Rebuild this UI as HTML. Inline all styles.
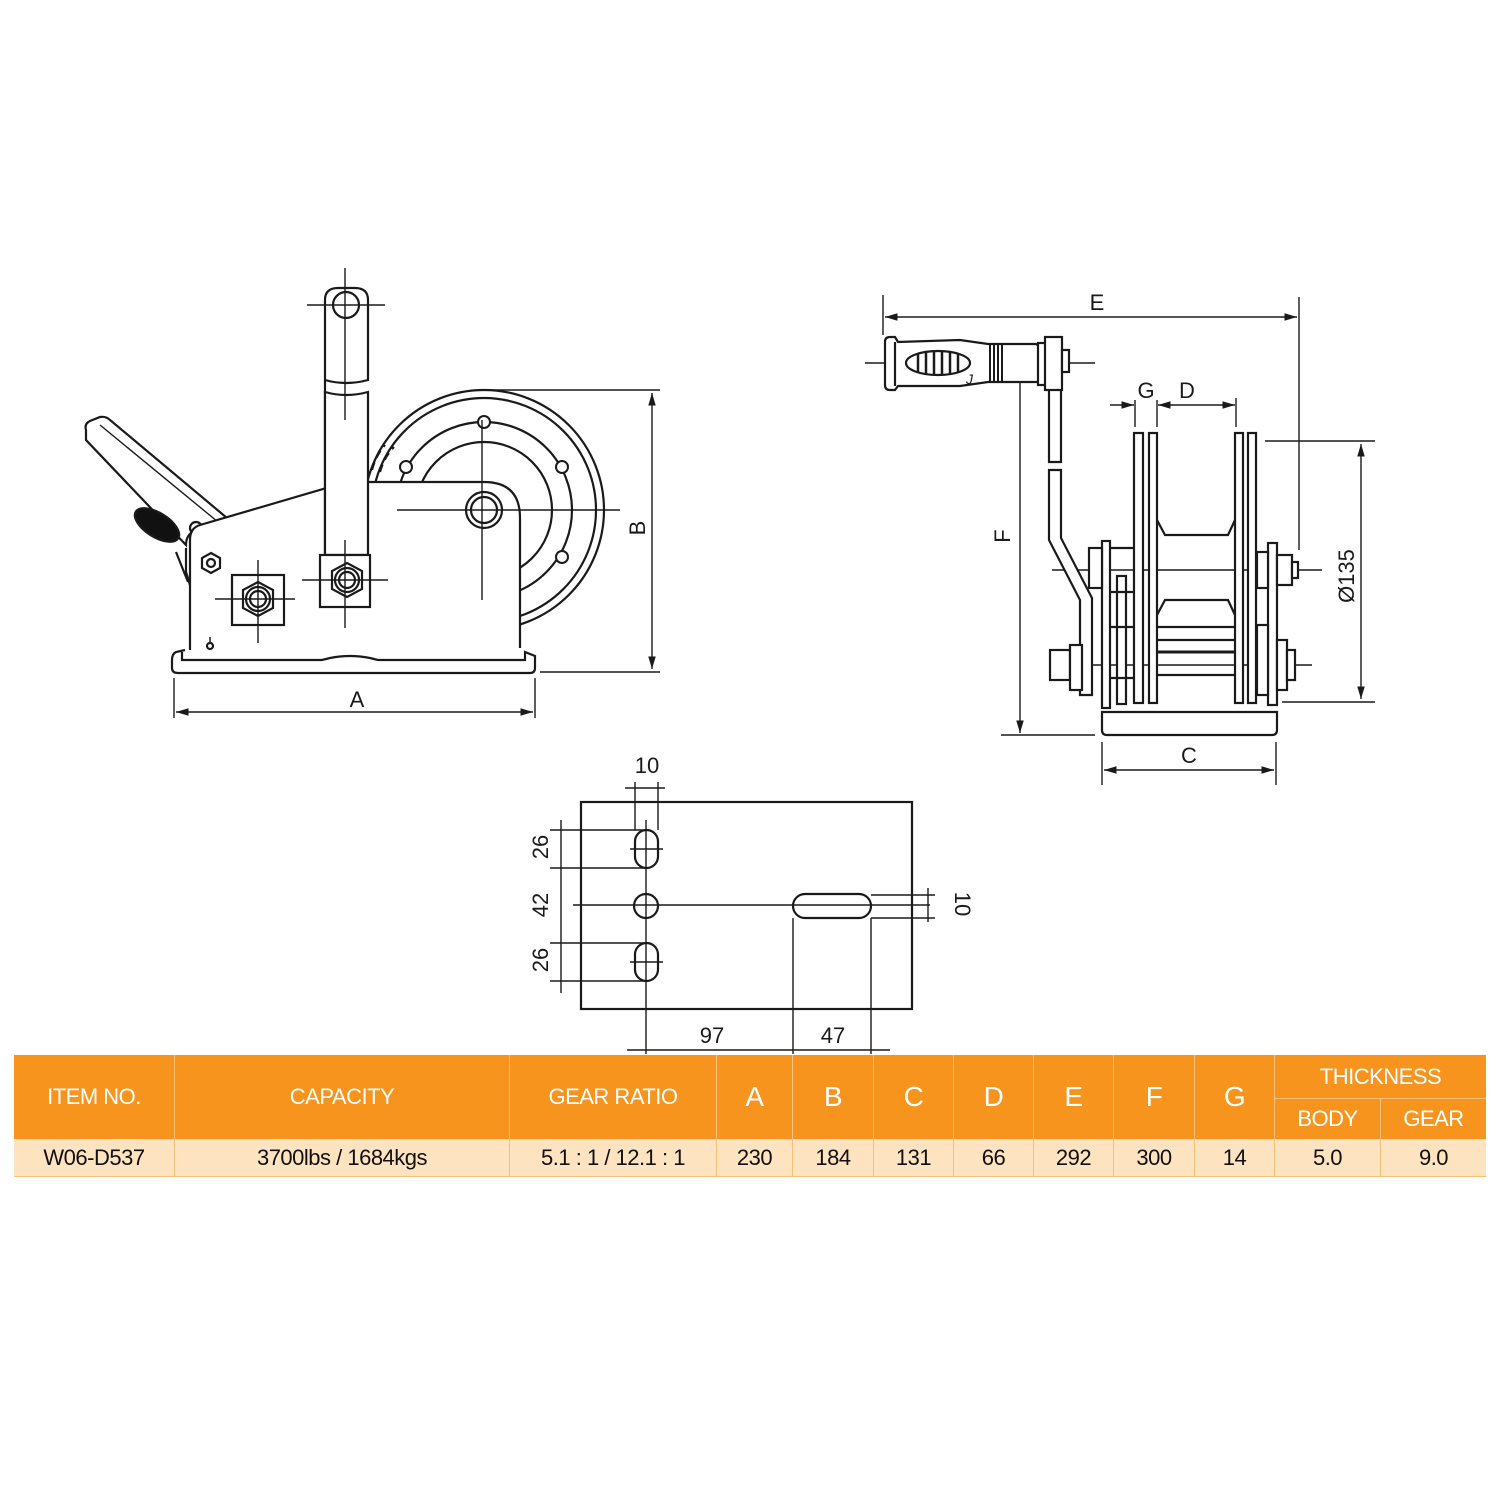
<!DOCTYPE html>
<html><head><meta charset="utf-8"><style>
html,body{margin:0;padding:0;background:#fff}
body{width:1500px;height:1500px;position:relative;overflow:hidden;font-family:"Liberation Sans",sans-serif}
svg{position:absolute;left:0;top:0}
.t{position:absolute;color:#fff;font-size:22px;text-align:center;display:flex;align-items:center;justify-content:center;box-sizing:border-box;border-right:1px solid #f9c27e;letter-spacing:-0.5px}
.d{position:absolute;color:#111;font-size:22px;text-align:center;display:flex;align-items:center;justify-content:center;box-sizing:border-box;border-right:1px solid #f6c07a;letter-spacing:-0.5px}
</style></head><body>
<svg width="1500" height="1500" viewBox="0 0 1500 1500" fill="none" stroke="#1a1a1a" stroke-width="2.2" font-family="Liberation Sans, sans-serif">
<defs>
<marker id="ar" viewBox="0 0 10 10" refX="10" refY="5" markerWidth="9" markerHeight="9" orient="auto-start-reverse"><path d="M0,2 L10,5 L0,8 z" fill="#1a1a1a" stroke="none"/></marker>
</defs>
<!-- ===== LEFT VIEW ===== -->
<circle cx="484" cy="510" r="120" fill="#fff"/>
<circle cx="484" cy="510" r="112"/>
<circle cx="484" cy="510" r="88"/>
<circle cx="484" cy="510" r="68"/>
<g stroke-width="2">
<circle cx="484" cy="422" r="6" fill="#fff"/><circle cx="562" cy="467" r="6" fill="#fff"/><circle cx="562" cy="557" r="6" fill="#fff"/><circle cx="406" cy="467" r="6" fill="#fff"/>
</g>
<path d="M372,470 Q376,455 385,445" stroke-dasharray="8 5"/>
<path d="M380,472 Q384,457 394,447" stroke-dasharray="8 5"/>
<!-- lever -->
<path d="M86,430 Q84,424 90,421 L100,417 Q106,416 110,420 L227,518 L212,526 L196,530 Q186,534 186,545 L86,440 Z" fill="#fff"/>
<path d="M100,425 L218,522" stroke-width="1.4"/>
<path d="M186,548 L186,572 L190,585"/>
<path d="M176,552 L188,582"/>
<ellipse cx="157" cy="525" rx="25" ry="12" transform="rotate(32 157 525)" fill="#111"/>
<circle cx="196" cy="528" r="6" fill="#fff"/>
<!-- body -->
<path d="M190,650 L190,540 Q190,528 200,525 L330,487 L367,482 L484,482 Q520,482 520,518 L520,648" fill="#fff"/>
<path d="M330,487 L367,481" stroke="#fff" stroke-width="3"/>
<path d="M330,487 L367,481" stroke-dasharray="7 5"/>
<!-- base -->
<path d="M185,650 L176,652 Q172,654 172,660 L172,668 Q172,673 178,673 L530,673 Q535,673 535,668 L535,656 L525,652 L525,660 L378,660 L370,658 Q350,654 330,658 L322,660 L182,660 L182,652" fill="#fff"/>
<circle cx="484" cy="510" r="18" fill="#fff"/>
<circle cx="484" cy="510" r="13"/>
<!-- handle -->
<path d="M325,555 L325,300 Q325,288 338,288 L355,288 Q368,288 368,300 L368,380 Q346,386 325,380" fill="#fff"/>
<path d="M325,392 Q346,398 368,392 L368,555 L325,555 Z" fill="#fff"/>
<circle cx="346" cy="305" r="13" fill="#fff"/>
<rect x="320" y="555" width="50" height="52" fill="#fff"/>
<polygon points="347,563 362,571 362,589 347,597 332,589 332,571"/>
<circle cx="347" cy="580" r="12"/><circle cx="347" cy="580" r="8"/>
<rect x="232" y="575" width="52" height="50" fill="#fff"/>
<polygon points="258,582 273,590 273,608 258,616 243,608 243,590"/>
<circle cx="258" cy="599" r="12"/><circle cx="258" cy="599" r="8"/>
<polygon points="211,553 220,558 220,568 211,573 202,568 202,558"/>
<circle cx="211" cy="563" r="4"/>
<circle cx="210" cy="646" r="3"/><path d="M210,643 L210,637" stroke-width="1.5"/>
<g stroke-width="1.4">
<path d="M345,268 L345,420"/><path d="M307,305 L385,305"/>
<path d="M397,510 L620,510"/><path d="M482,420 L482,600"/>
<path d="M302,580 L388,580"/><path d="M345,540 L345,628"/>
<path d="M215,599 L295,599"/><path d="M258,560 L258,643"/>
</g>
<g stroke-width="1.4">
<path d="M490,390 L660,390"/><path d="M540,672 L660,672"/>
<path d="M652,393 L652,669" marker-start="url(#ar)" marker-end="url(#ar)"/>
<path d="M174,678 L174,718"/><path d="M535,678 L535,718"/>
<path d="M176,712 L533,712" marker-start="url(#ar)" marker-end="url(#ar)"/>
</g>
<g fill="#1a1a1a" stroke="none" font-size="22">
<text x="357" y="707" text-anchor="middle">A</text>
<text x="645" y="528" text-anchor="middle" transform="rotate(-90 645 528)">B</text>
</g>
<!-- ===== RIGHT VIEW ===== -->
<g stroke-width="1.4">
<path d="M883,295 L883,335"/><path d="M1299,297 L1299,550"/>
<path d="M885,317 L1297,317" marker-start="url(#ar)" marker-end="url(#ar)"/>
<path d="M865,363 L1095,363"/>
<path d="M1020,367 L1020,733" marker-start="url(#ar)" marker-end="url(#ar)"/>
<path d="M1001,735 L1095,735"/>
<path d="M1135,400 L1135,427"/><path d="M1157,400 L1157,427"/><path d="M1236,398 L1236,427"/>
<path d="M1110,405 L1134,405" marker-end="url(#ar)"/>
<path d="M1158,405 L1235,405" marker-start="url(#ar)" marker-end="url(#ar)"/>
<path d="M1265,441 L1375,441"/><path d="M1282,702 L1375,702"/>
<path d="M1361,444 L1361,699" marker-start="url(#ar)" marker-end="url(#ar)"/>
<path d="M1102,742 L1102,785"/><path d="M1276,742 L1276,785"/>
<path d="M1104,770 L1274,770" marker-start="url(#ar)" marker-end="url(#ar)"/>
<path d="M1052,570 L1322,570"/><path d="M1050,665 L1312,665"/>
</g>
<g fill="#1a1a1a" stroke="none" font-size="22">
<text x="1097" y="310" text-anchor="middle">E</text>
<text x="1146" y="398" text-anchor="middle">G</text>
<text x="1187" y="398" text-anchor="middle">D</text>
<text x="1189" y="763" text-anchor="middle">C</text>
<text x="1010" y="536" text-anchor="middle" transform="rotate(-90 1010 536)">F</text>
<text x="1354" y="576" text-anchor="middle" transform="rotate(-90 1354 576)">Ø135</text>
</g>
<path d="M890,337 L895,337 L898,342 L960,340 L988,344 L1036,344 Q1040,346 1040,350 L1040,378 Q1040,382 1036,382 L988,382 L960,386 L898,386 L895,390 L890,390 Q885,390 885,385 L885,342 Q885,337 890,337 Z" fill="#fff"/>
<path d="M895,342 L895,386"/>
<ellipse cx="938" cy="363" rx="32" ry="12" fill="#fff"/>
<g stroke-width="2.5"><path d="M918,353 V373"/><path d="M926,351 V375"/><path d="M934,351 V375"/><path d="M942,351 V375"/><path d="M950,352 V374"/><path d="M958,354 V372"/></g>
<path d="M990,344 V382 M994,344 V382 M998,344 V382 M1002,344 V382" stroke-width="2"/>
<text x="966" y="384" font-size="14" fill="#1a1a1a" stroke="none" font-style="italic">J</text>
<rect x="1038" y="343" width="8" height="42" fill="#fff"/>
<rect x="1045" y="337" width="17" height="53" fill="#fff"/>
<rect x="1062" y="350" width="7" height="22" fill="#fff"/>
<path d="M1049,390 L1049,462 L1061,462 L1061,390"/>
<path d="M1049,470 L1049,540 L1080,600 L1080,695 L1092,695 L1092,598 L1061,538 L1061,470 Z" fill="#fff"/>
<rect x="1134" y="433" width="9" height="270" fill="#fff"/>
<rect x="1149" y="433" width="8" height="270" fill="#fff"/>
<rect x="1235" y="433" width="8" height="270" fill="#fff"/>
<rect x="1248" y="433" width="8" height="270" fill="#fff"/>
<path d="M1157,520 L1165,535 L1228,535 L1235,520"/>
<path d="M1157,615 L1165,600 L1228,600 L1235,615"/>
<path d="M1157,627 L1235,627"/><path d="M1157,640 L1235,640"/>
<path d="M1157,652 L1235,652" stroke-width="3"/>
<path d="M1157,675 L1235,675"/>
<rect x="1102" y="541" width="8" height="167" fill="#fff"/>
<rect x="1268" y="543" width="9" height="162" fill="#fff"/>
<rect x="1117" y="576" width="9" height="128" fill="#fff"/>
<path d="M1110,548 L1134,548 M1110,592 L1134,592 M1110,627 L1134,627 M1110,678 L1134,678"/>
<rect x="1089" y="548" width="13" height="40" fill="#fff"/>
<rect x="1257" y="552" width="11" height="36" fill="#fff"/>
<rect x="1277" y="555" width="15" height="30" fill="#fff"/>
<rect x="1292" y="562" width="6" height="16" fill="#fff"/>
<rect x="1050" y="650" width="20" height="30" fill="#fff"/>
<rect x="1070" y="645" width="12" height="45" fill="#fff"/>
<rect x="1257" y="625" width="11" height="70" fill="#fff"/>
<rect x="1277" y="640" width="10" height="50" fill="#fff"/>
<rect x="1287" y="650" width="8" height="30" fill="#fff"/>
<path d="M1102,712 L1277,712 L1277,730 Q1277,735 1272,735 L1107,735 Q1102,735 1102,730 Z" fill="#fff"/>
<!-- ===== PLATE ===== -->
<rect x="581" y="802" width="331" height="207" fill="#fff"/>
<rect x="635" y="830" width="23" height="38" rx="11.5" fill="#fff"/>
<rect x="635" y="943" width="23" height="38" rx="11.5" fill="#fff"/>
<circle cx="646" cy="906" r="12" fill="#fff"/>
<rect x="793" y="894" width="78" height="24" rx="12" fill="#fff"/>
<g stroke-width="1.4">
<path d="M635,782 L635,830 M658,782 L658,830 M625,788 L665,788"/>
<path d="M646,820 L646,1054"/><path d="M630,849 L663,849"/><path d="M630,962 L663,962"/>
<path d="M573,905 L930,905"/>
<path d="M550,830 L646,830 M550,868 L646,868 M550,943 L646,943 M550,981 L646,981"/>
<path d="M561,820 L561,993"/>
<path d="M871,895 L935,895 M871,918 L935,918 M928,888 L928,922"/>
<path d="M793,918 L793,1054 M871,918 L871,1054"/>
<path d="M627,1050 L890,1050"/>
</g>
<g fill="#1a1a1a" stroke="none" font-size="22">
<text x="647" y="773" text-anchor="middle">10</text>
<text x="712" y="1043" text-anchor="middle">97</text>
<text x="833" y="1043" text-anchor="middle">47</text>
<text x="548" y="847" text-anchor="middle" transform="rotate(-90 548 847)">26</text>
<text x="548" y="905" text-anchor="middle" transform="rotate(-90 548 905)">42</text>
<text x="548" y="960" text-anchor="middle" transform="rotate(-90 548 960)">26</text>
<text x="955" y="904" text-anchor="middle" transform="rotate(90 955 904)">10</text>
</g>
</svg>
<div style="position:absolute;left:14px;top:1055px;width:1472px;height:84px;background:#f7941d"></div>
<div style="position:absolute;left:14px;top:1139px;width:1472px;height:37px;background:#fde3bf;border-bottom:1px solid #f6c07a"></div>
<div class="t" style="left:14px;top:1055px;width:161px;height:84px">ITEM NO.</div>
<div class="t" style="left:175px;top:1055px;width:335px;height:84px">CAPACITY</div>
<div class="t" style="left:510px;top:1055px;width:207px;height:84px">GEAR RATIO</div>
<div class="t" style="left:717px;top:1055px;width:76px;height:84px;font-size:28px">A</div>
<div class="t" style="left:793px;top:1055px;width:81px;height:84px;font-size:28px">B</div>
<div class="t" style="left:874px;top:1055px;width:80px;height:84px;font-size:28px">C</div>
<div class="t" style="left:954px;top:1055px;width:80px;height:84px;font-size:28px">D</div>
<div class="t" style="left:1034px;top:1055px;width:80px;height:84px;font-size:28px">E</div>
<div class="t" style="left:1114px;top:1055px;width:81px;height:84px;font-size:28px">F</div>
<div class="t" style="left:1195px;top:1055px;width:80px;height:84px;font-size:28px">G</div>
<div class="t" style="left:1275px;top:1055px;width:211px;height:44px;border-bottom:1px solid #f9c27e;border-right:none">THICKNESS</div>
<div class="t" style="left:1275px;top:1099px;width:106px;height:40px">BODY</div>
<div class="t" style="left:1381px;top:1099px;width:105px;height:40px;border-right:none">GEAR</div>
<div class="d" style="left:14px;top:1139px;width:161px;height:37px">W06-D537</div>
<div class="d" style="left:175px;top:1139px;width:335px;height:37px">3700lbs / 1684kgs</div>
<div class="d" style="left:510px;top:1139px;width:207px;height:37px">5.1 : 1 / 12.1 : 1</div>
<div class="d" style="left:717px;top:1139px;width:76px;height:37px">230</div>
<div class="d" style="left:793px;top:1139px;width:81px;height:37px">184</div>
<div class="d" style="left:874px;top:1139px;width:80px;height:37px">131</div>
<div class="d" style="left:954px;top:1139px;width:80px;height:37px">66</div>
<div class="d" style="left:1034px;top:1139px;width:80px;height:37px">292</div>
<div class="d" style="left:1114px;top:1139px;width:81px;height:37px">300</div>
<div class="d" style="left:1195px;top:1139px;width:80px;height:37px">14</div>
<div class="d" style="left:1275px;top:1139px;width:106px;height:37px">5.0</div>
<div class="d" style="left:1381px;top:1139px;width:105px;height:37px;border-right:none">9.0</div>
</body></html>
